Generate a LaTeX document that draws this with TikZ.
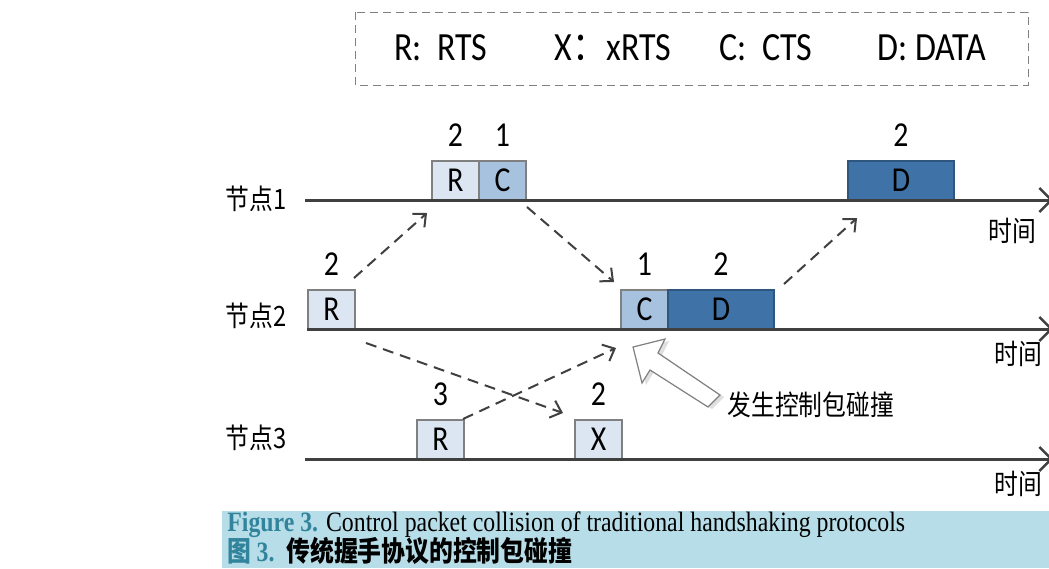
\documentclass[tikz,border=0pt]{standalone}
\usepackage{fontspec}
\setmainfont{Carlito}[FakeStretch=0.85]
\newfontfamily\cjk{Noto Sans CJK SC}[FakeStretch=0.85]
\newfontfamily\capserif{Liberation Serif}[FakeStretch=0.85]
\usetikzlibrary{positioning,arrows.meta,shadows}
\definecolor{axisgray}{HTML}{404040}
\definecolor{boxline}{HTML}{808080}
\definecolor{rtsfill}{HTML}{DCE6F2}
\definecolor{ctsfill}{HTML}{A7C2DE}
\definecolor{datafill}{HTML}{3F72A6}
\definecolor{capband}{HTML}{B7DEE8}
\definecolor{capteal}{HTML}{31849B}
\tikzset{
  pkt/.style={
    draw=boxline, line width=0.6pt,
    minimum width=23.5pt, minimum height=19.5pt,
    inner sep=0pt, outer sep=0pt,
    font=\fontsize{17.5}{17.5}\selectfont
  },
  rts/.style={pkt, fill=rtsfill},
  cts/.style={pkt, fill=ctsfill},
  data/.style={pkt, fill=datafill, draw=datafill!75!black, minimum width=53pt},
  seq/.style={inner sep=0pt, font=\fontsize{17.5}{17.5}\selectfont},
  keytext/.style={inner sep=0pt, font=\fontsize{20}{20}\selectfont},
  cjklbl/.style={inner sep=0pt, font=\cjk\fontsize{14}{14}\selectfont},
  timeaxis/.style={draw=axisgray, line width=1.5pt, -{Straight Barb[length=6pt,width=12pt,line width=1.2pt]}},
  sig/.style={draw=axisgray, line width=1pt, dash pattern=on 5.5pt off 3.5pt,
    -{Straight Barb[length=5pt,width=9pt,line width=1pt]}}
}

\begin{document}
\begin{tikzpicture}[x=0.5pt,y=-0.5pt]
  \useasboundingbox (0,0) rectangle (1049,568);

  % legend
  \draw[draw=gray, line width=0.5pt, dash pattern=on 4pt off 2.5pt] (355,12) rectangle (1028,85);
  \node[keytext] (kr) at (441,48) {R:\ \ RTS};
  \node[keytext] (kx) at (613,48) {X{\cjk ：}xRTS};
  \node[keytext] (kc) at (766,48) {C:\ \ CTS};
  \node[keytext] (kd) at (932,48) {D:\ DATA};

  % packets
  \node[rts, anchor=south west] (r1) at (432,200) {R};
  \node[cts, right=0pt of r1] (c1) {C};
  \node[data, anchor=south west] (d1) at (848,200) {D};
  \node[rts, anchor=south west] (r2) at (308,329) {R};
  \node[cts, anchor=south west] (c2) at (621,329) {C};
  \node[data, right=0pt of c2] (d2) {D};
  \node[rts, anchor=south west] (r3) at (417,459) {R};
  \node[rts, anchor=south west] (x3) at (575,459) {X};

  \node[seq, above=7pt of r1] {2};
  \node[seq, above=7pt of c1] {1};
  \node[seq, above=7pt of d1] {2};
  \node[seq, above=7pt of r2] {2};
  \node[seq, above=7pt of c2] {1};
  \node[seq, above=7pt of d2] {2};
  \node[seq, above=7pt of r3] {3};
  \node[seq, above=7pt of x3] {2};

  % time axes
  \coordinate (a1) at (305,200);
  \coordinate (b1) at (1053,200);
  \coordinate (a2) at (307,329);
  \coordinate (b2) at (1053,329);
  \coordinate (a3) at (305,459);
  \coordinate (b3) at (1053,459);
  \draw[timeaxis] (a1) -- (b1);
  \draw[timeaxis] (a2) -- (b2);
  \draw[timeaxis] (a3) -- (b3);
  \node[cjklbl] (n1) at (256,199) {节点1};
  \node[cjklbl] (n2) at (256,316) {节点2};
  \node[cjklbl] (n3) at (256,438) {节点3};
  \node[cjklbl] (t1) at (1012,231) {时间};
  \node[cjklbl] (t2) at (1018,354) {时间};
  \node[cjklbl] (t3) at (1018,484) {时间};

  % control and data frames
  \draw[sig] ([shift={(-1,-12)}]r2.north east) -- ([shift={(-5,13)}]r1.south west);
  \draw[sig] ([shift={(1,7)}]c1.south east) -- ([shift={(-7,-8)}]c2.north west);
  \draw[sig] ([shift={(10,-6)}]d2.north east) -- ([shift={(9,18)}]d1.south west);
  \draw[sig] ([shift={(11,14)}]r2.south east) -- ([shift={(-12,-7)}]x3.north west);
  \draw[sig] ([shift={(-1,-1)}]r3.north east) -- ([shift={(-5,19)}]c2.south west);

  % collision mark
  \filldraw[draw=gray, fill=white, line width=0.6pt,
    drop shadow={shadow xshift=2pt, shadow yshift=-1pt, opacity=0.25}]
    (633,347) -- (665,339) -- (658,353) -- (720,395) -- (708,407)
    -- (650,370) -- (642,383) -- cycle;
  \node[cjklbl, anchor=west] (clash) at (727,405) {发生控制包碰撞};

  % caption
  \fill[capband] (222,511) rectangle (1049,568);
  \node[anchor=west, inner sep=0pt, font=\capserif\fontsize{14}{14}\selectfont] (cap1) at (227,525)
    {\textcolor{capteal}{\bfseries Figure 3.} Control packet collision of traditional handshaking protocols};
  \node[anchor=west, inner sep=0pt, font=\capserif\fontsize{14}{14}\selectfont] (cap2) at (227,551)
    {\textcolor{capteal}{\cjk\bfseries 图\ \capserif\bfseries 3.}\ \ {\cjk\bfseries 传统握手协议的控制包碰撞}};
\end{tikzpicture}
\end{document}
